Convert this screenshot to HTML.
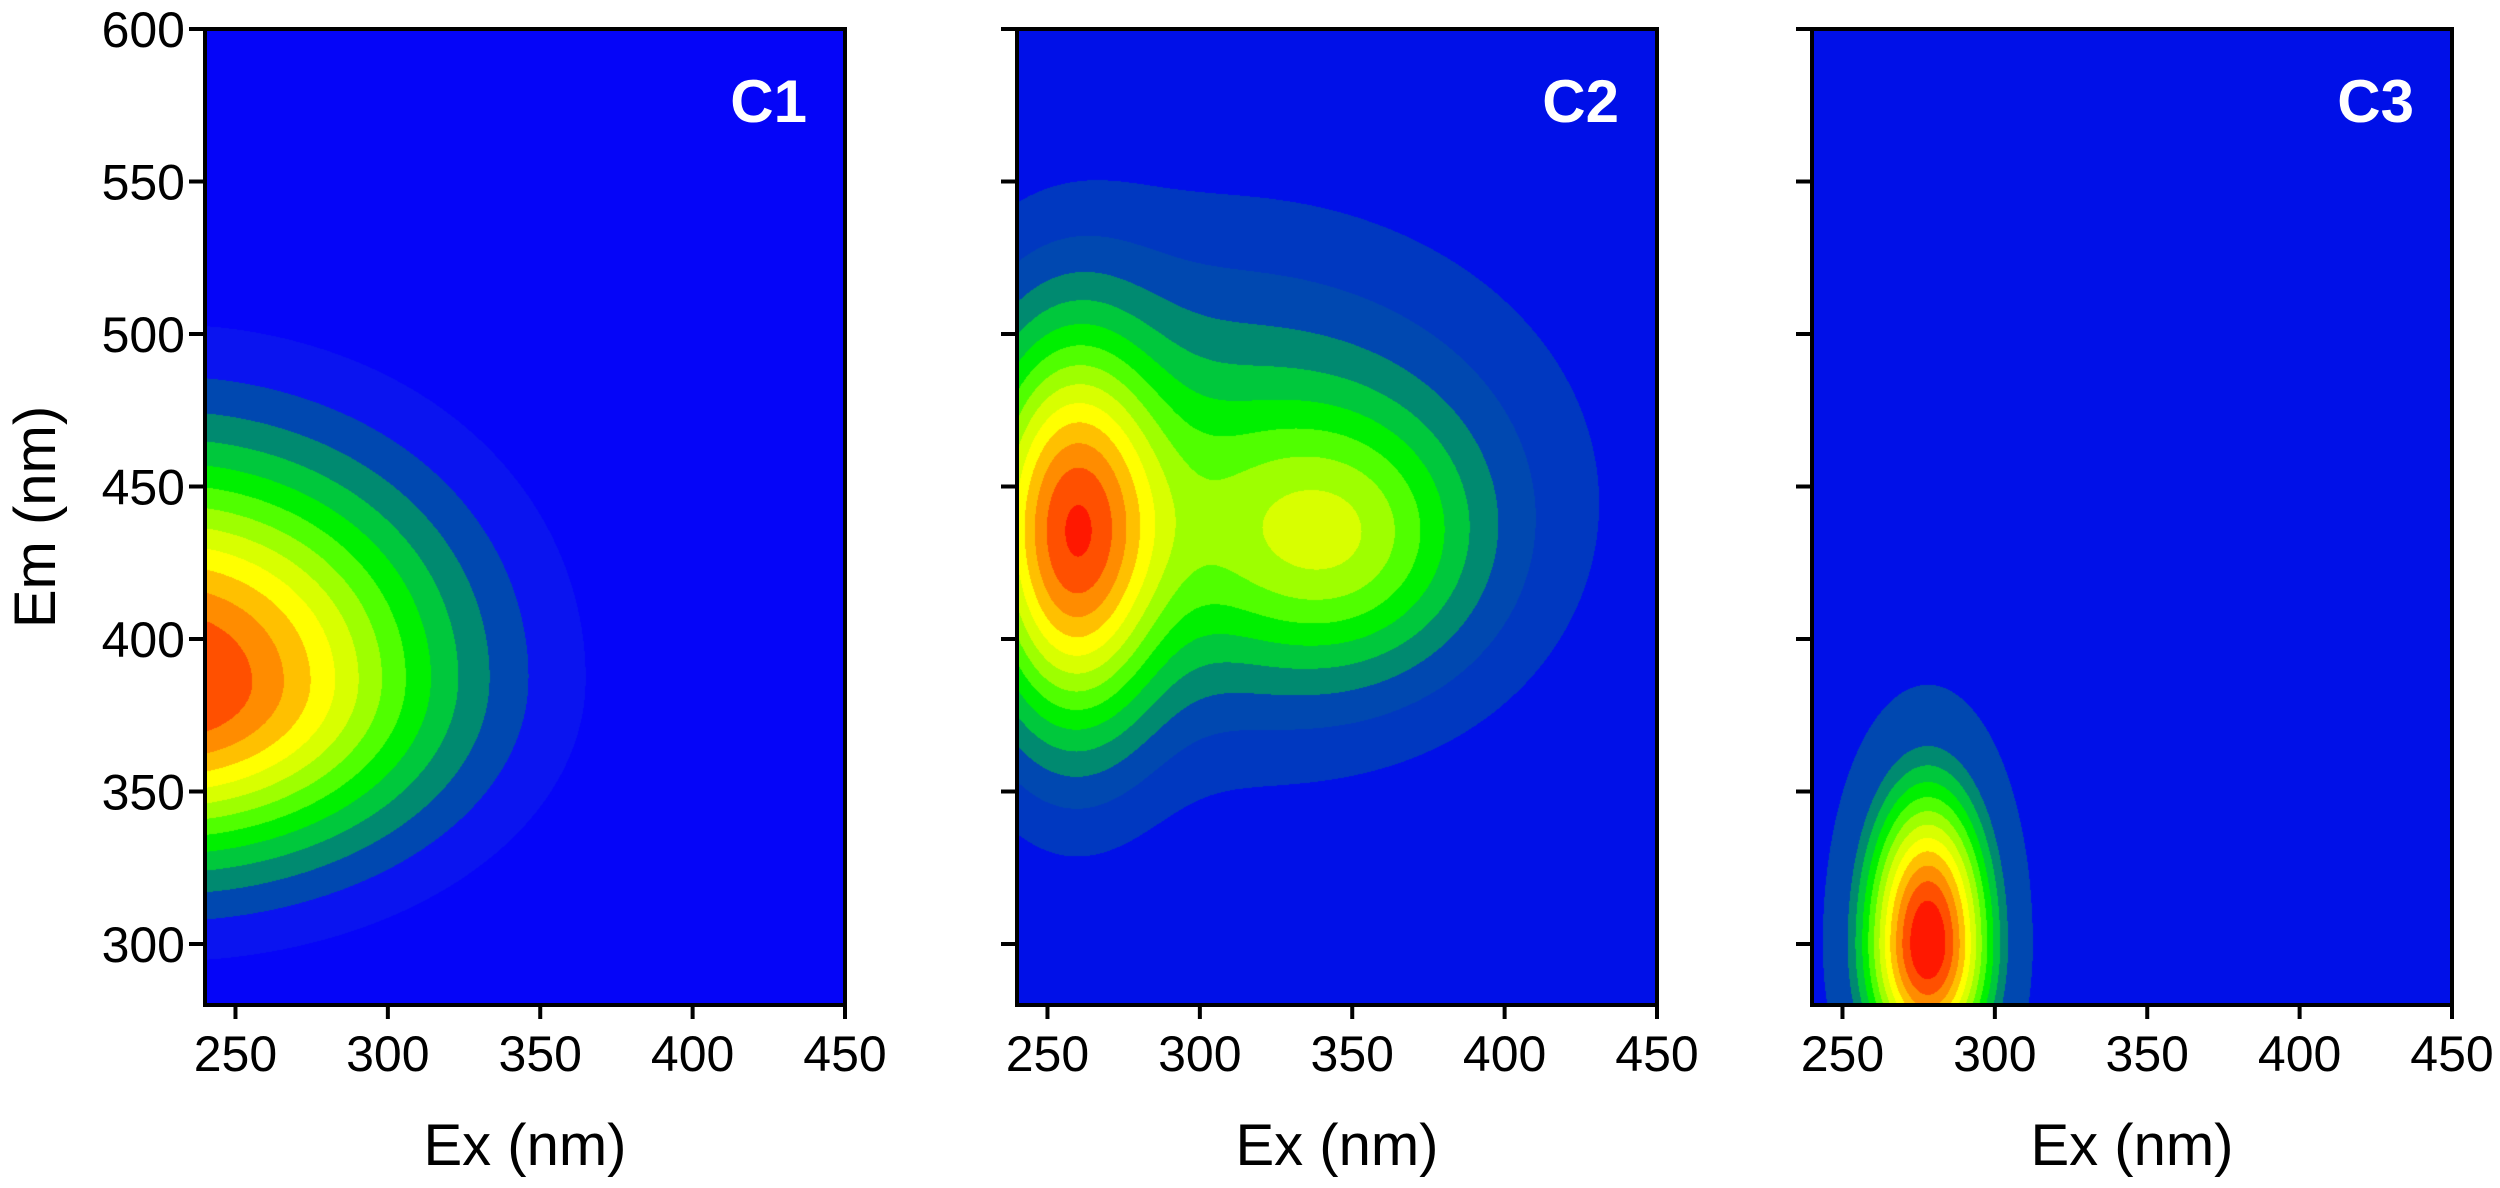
<!DOCTYPE html>
<html><head><meta charset="utf-8">
<style>
html,body{margin:0;padding:0;background:#fff;}
#wrap{position:relative;width:2500px;height:1188px;overflow:hidden;font-family:"Liberation Sans",sans-serif;}
canvas{position:absolute;}
svg{position:absolute;left:0;top:0;}
</style></head>
<body>
<div id="wrap">
<canvas id="c0"></canvas>
<canvas id="c1"></canvas>
<canvas id="c2"></canvas>
<svg id="ax" width="2500" height="1188"></svg>
</div>
<script>
// ---- data ----
const panelNames = ["C1","C2","C3"];
const xTicks = [250,300,350,400,450];
const yTicks = [300,350,400,450,500,550,600];
// gaussian components per panel: centers, asymmetric widths, amplitudes
const c1Ex=[225,290], c1Em=[385,395], c1SxL=[60,40], c1SxR=[60,40], c1SyD=[40,35], c1SyU=[52,45], c1Amp=[0.93,0.06];
const c2Ex=[258,345,305], c2Em=[432,432,450], c2SxL=[20,35,70], c2SxR=[20,32,70], c2SyD=[45,30,55], c2SyU=[45,30,55], c2Amp=[0.68,0.34,0.32];
const c3Ex=[278], c3Em=[300], c3SxL=[15], c3SxR=[15], c3SyD=[30], c3SyU=[37], c3Amp=[1.0];
const levelColors=["#0a14f0","#0048b0","#008a70","#00c83c","#00f000","#50ff00","#9eff00","#d8ff00","#ffff00","#ffc000","#ff8c00","#ff5000","#ff1800"];
const firstLevel=["#0a14f0","#0038c0","#0048b0"];
const bgColors=["#0505f8","#0010e8","#0010e8"];

const comps=[[c1Ex,c1Em,c1SxL,c1SxR,c1SyD,c1SyU,c1Amp],[c2Ex,c2Em,c2SxL,c2SxR,c2SyD,c2SyU,c2Amp],[c3Ex,c3Em,c3SxL,c3SxR,c3SyD,c3SyU,c3Amp]];
const PL=[205,1017,1812], PT=29, PW=640, PH=976;
const X0=240,X1=450,Y0=280,Y1=600;
function sx(p,v){return PL[p]+(v-X0)/(X1-X0)*PW;}
function sy(v){return PT+(Y1-v)/(Y1-Y0)*PH;}
function hex(c){return [parseInt(c.substr(1,2),16),parseInt(c.substr(3,2),16),parseInt(c.substr(5,2),16)];}
const nl=levelColors.length+1;

for(let p=0;p<3;p++){
  const lc=levelColors.map(hex);lc[0]=hex(firstLevel[p]);
  const cv=document.getElementById('c'+p);
  cv.width=PW;cv.height=PH;cv.style.left=PL[p]+'px';cv.style.top=PT+'px';
  const ctx=cv.getContext('2d');const img=ctx.createImageData(PW,PH);
  const bg=hex(bgColors[p]);
  const [ex,em,sxl,sxr,syd,syu,amp]=comps[p];
  for(let j=0;j<PH;j++){
    const yv=Y1-(j+0.5)/PH*(Y1-Y0);
    for(let i=0;i<PW;i++){
      const xv=X0+(i+0.5)/PW*(X1-X0);
      let f=0;
      for(let k=0;k<ex.length;k++){
        const dx=xv-ex[k], dy=yv-em[k];
        const s1=dx<0?sxl[k]:sxr[k], s2=dy<0?syd[k]:syu[k];
        f+=amp[k]*Math.exp(-0.5*((dx/s1)**2+(dy/s2)**2));
      }
      let L=Math.floor(f*nl);
      const o=(j*PW+i)*4;
      let c=bg;
      if(L>=1){c=lc[Math.min(L,lc.length)-1];}
      img.data[o]=c[0];img.data[o+1]=c[1];img.data[o+2]=c[2];img.data[o+3]=255;
    }
  }
  ctx.putImageData(img,0,0);
}

const svg=document.getElementById('ax');const NS="http://www.w3.org/2000/svg";
function mk(t,a,txt){const e=document.createElementNS(NS,t);for(const k in a)e.setAttribute(k,a[k]);if(txt!==undefined)e.textContent=txt;svg.appendChild(e);return e;}
for(let p=0;p<3;p++){
  let r=mk('rect',{x:PL[p],y:PT,width:PW,height:PH,fill:'none',stroke:'#000','stroke-width':4});
  
  
  xTicks.forEach(v=>{
    const x=sx(p,v);
    let l=mk('line',{x1:x,x2:x,y1:PT+PH,y2:PT+PH+14,stroke:'#000','stroke-width':4});
    
    
    let t=mk('text',{x:x,y:1071,'font-size':50,'text-anchor':'middle',fill:'#000'},String(v));
    
    
  });
  yTicks.forEach(v=>{
    const y=sy(v);
    let l=mk('line',{x1:PL[p]-16,x2:PL[p],y1:y,y2:y,stroke:'#000','stroke-width':4});
    
    
    if(p===0){
      let t=mk('text',{x:PL[p]-20,y:y+18,'font-size':50,'text-anchor':'end',fill:'#000'},String(v));
      
      
    }
  });
  let xt=mk('text',{x:PL[p]+PW/2,y:1165,'font-size':58,'text-anchor':'middle',fill:'#000'},'Ex (nm)');
  
  
  let pn=mk('text',{x:PL[p]+PW-38,y:122,'font-size':60,'font-weight':'bold','text-anchor':'end',fill:'#fff'},panelNames[p]);
  
  
}
let yt=mk('text',{x:0,y:0,'font-size':58,'text-anchor':'middle',fill:'#000',transform:'translate(55,517) rotate(-90)'},'Em (nm)');


</script>
</body></html>
